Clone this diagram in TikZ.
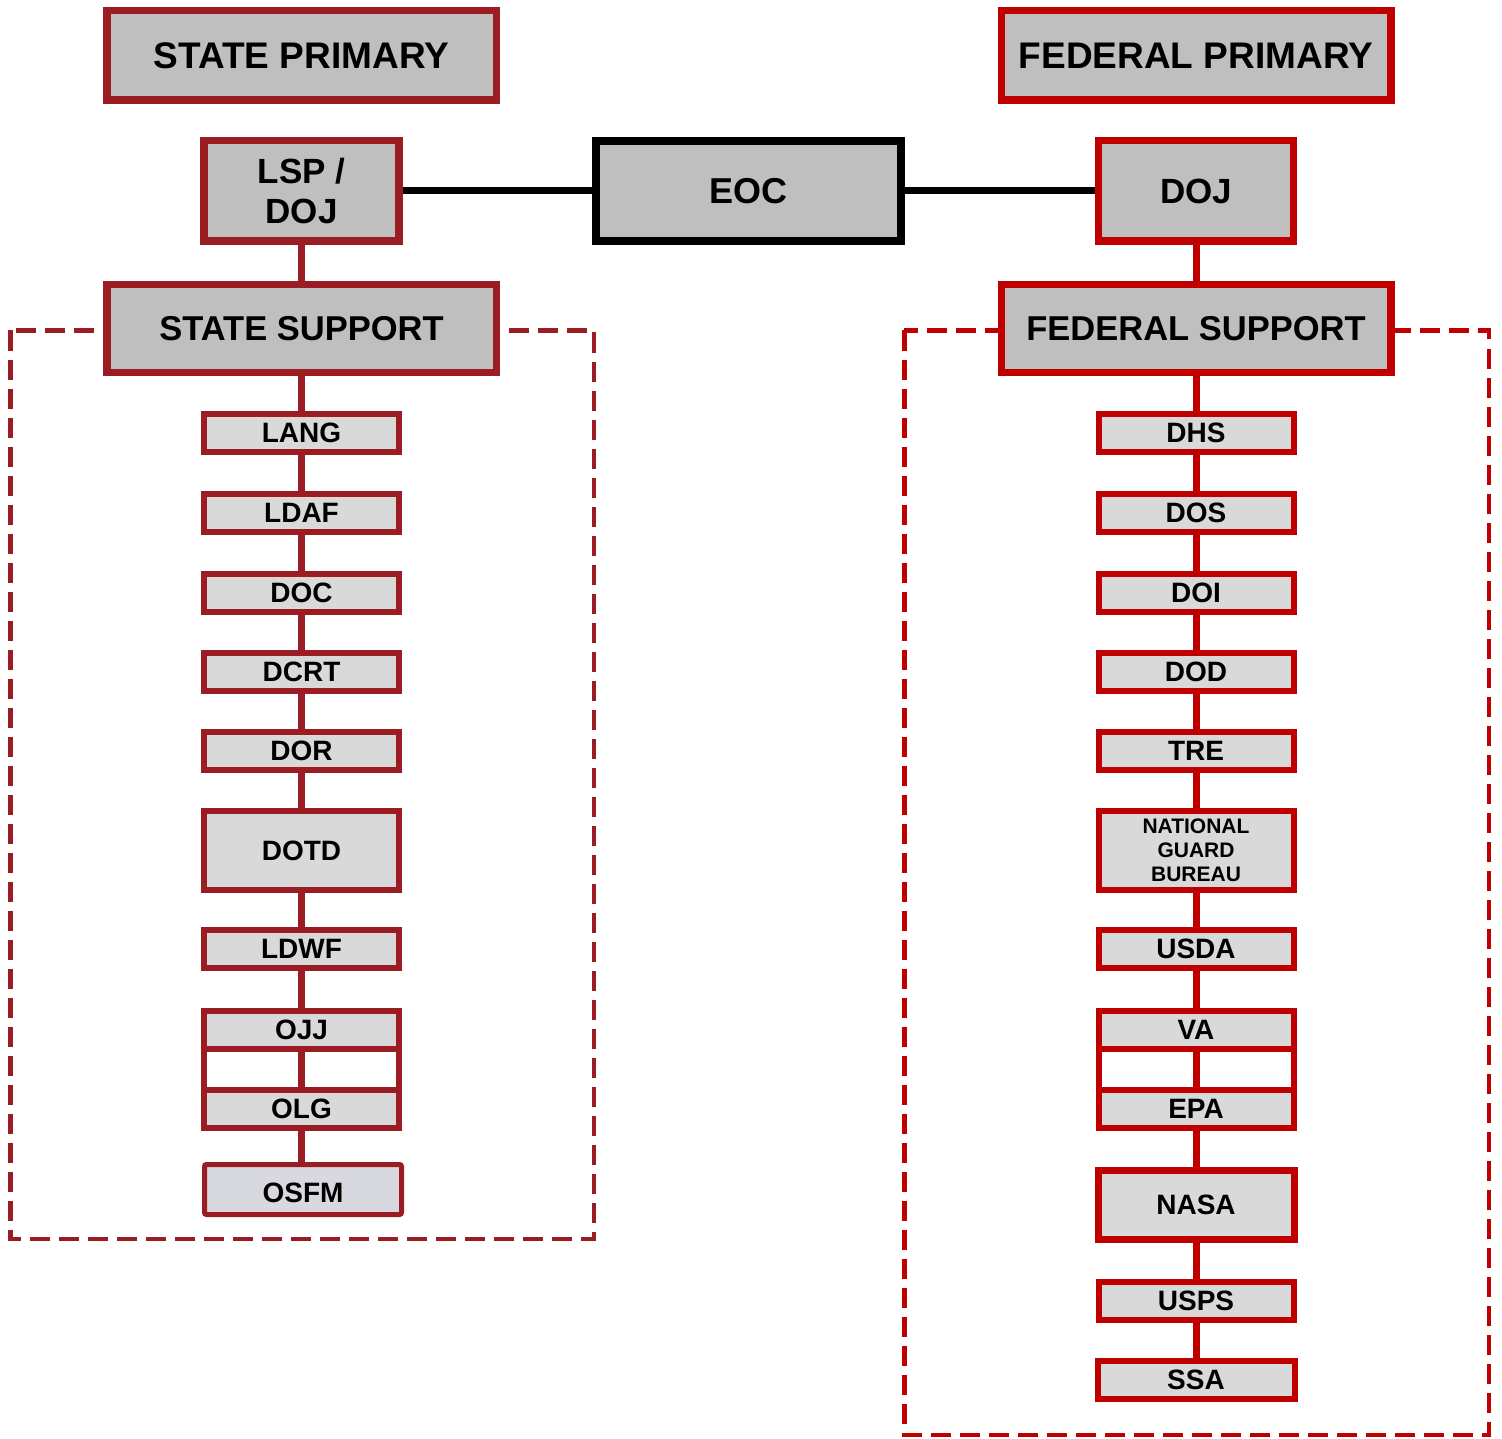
\documentclass[tikz,border=0pt]{standalone}
\usepackage{fontspec}
\setmainfont{Liberation Sans}
\definecolor{sred}{HTML}{9B1C23}
\definecolor{fred}{HTML}{C00000}
\definecolor{bigfill}{HTML}{BFBFBF}
\definecolor{smallfill}{HTML}{D9D9D9}
\definecolor{osfmfill}{HTML}{D7D8E0}
\begin{document}
\begin{tikzpicture}[x=1pt,y=-1pt,
  big/.style={fill=bigfill, line width=7.5pt, inner sep=0pt, align=center,
    font=\fontsize{37}{40}\selectfont\bfseries},
  primbox/.style={big, minimum width=389.5pt, minimum height=89.5pt},
  suppbox/.style={big, minimum width=389.5pt, minimum height=87.5pt,
    font=\fontsize{34.5}{40}\selectfont\bfseries},
  midbox/.style={big, minimum width=195pt, minimum height=100.5pt,
    font=\fontsize{35}{40}\selectfont\bfseries},
  small/.style={fill=smallfill, line width=6pt, inner sep=0pt, align=center,
    minimum width=195pt, minimum height=38pt,
    font=\fontsize{28}{30}\selectfont\bfseries},
  tall/.style={small, minimum height=79pt},
  stc/.style={draw=sred},
  fdc/.style={draw=fred},
  conn/.style={line width=7pt},
  side/.style={line width=6pt},
  dashbox/.style={line width=4.5pt, dash pattern=on 20pt off 9pt}
]
\useasboundingbox (0,0) rectangle (1502,1439);

% dashed group frames
\draw[dashbox, sred] (10.25,330.5) rectangle (593.75,1238.75);
\draw[dashbox, fred] (904.25,330.5) rectangle (1488.75,1434.75);

% state column
\node[primbox, stc] (sp) at (301.5,55.5) {STATE PRIMARY};
\node[midbox, stc] (lsp) at (301.5,191) {LSP /\\DOJ};
\node[suppbox, stc] (ss) at (301.5,328.5) {STATE SUPPORT};
\node[small, stc] (lang) at (301.5,433) {LANG};
\node[small, stc] (ldaf) at (301.5,513) {LDAF};
\node[small, stc] (doc) at (301.5,592.5) {DOC};
\node[small, stc] (dcrt) at (301.5,671.5) {DCRT};
\node[small, stc] (dor) at (301.5,751) {DOR};
\node[tall, stc] (dotd) at (301.5,850.5) {DOTD};
\node[small, stc] (ldwf) at (301.5,949) {LDWF};
\node[small, stc] (ojj) at (301.5,1029.5) {OJJ};
\node[small, stc] (olg) at (301.5,1109) {OLG};
\node[small, stc, fill=osfmfill, line width=5pt, rounded corners=2pt,
  minimum width=197pt, minimum height=50pt, text height=26pt, text depth=0pt] (osfm) at (303,1189.5) {OSFM};

% federal column
\node[primbox, fdc] (fp) at (1196,55.5) {FEDERAL PRIMARY};
\node[midbox, fdc] (doj) at (1196,191) {DOJ};
\node[suppbox, fdc] (fs) at (1196,328.5) {FEDERAL SUPPORT};
\node[small, fdc] (dhs) at (1196,433) {DHS};
\node[small, fdc] (dos) at (1196,513) {DOS};
\node[small, fdc] (doi) at (1196,592.5) {DOI};
\node[small, fdc] (dod) at (1196,671.5) {DOD};
\node[small, fdc] (tre) at (1196,751) {TRE};
\node[tall, fdc, font=\fontsize{21}{24}\selectfont\bfseries] (ngb) at (1196,850.5) {NATIONAL\\GUARD\\BUREAU};
\node[small, fdc] (usda) at (1196,949) {USDA};
\node[small, fdc] (va) at (1196,1029.5) {VA};
\node[small, fdc] (epa) at (1196,1109) {EPA};
\node[small, fdc, line width=7pt, minimum width=196pt, minimum height=69pt] (nasa) at (1196,1205) {NASA};
\node[small, fdc] (usps) at (1196,1301) {USPS};
\node[small, fdc, minimum width=197pt] (ssa) at (1196,1380) {SSA};

% EOC
\node[big, draw=black, line width=8pt, minimum width=305pt, minimum height=100pt,
  font=\fontsize{36}{40}\selectfont\bfseries] (eoc) at (748.5,191) {EOC};

% connectors
\draw[conn, black] (lsp.east) -- (eoc.west);
\draw[conn, black] (eoc.east) -- (doj.west);

\draw[conn, sred] (lsp.south) -- (ss.north);
\draw[conn, sred] (ss.south) -- (lang.north);
\draw[conn, sred] (lang.south) -- (ldaf.north);
\draw[conn, sred] (ldaf.south) -- (doc.north);
\draw[conn, sred] (doc.south) -- (dcrt.north);
\draw[conn, sred] (dcrt.south) -- (dor.north);
\draw[conn, sred] (dor.south) -- (dotd.north);
\draw[conn, sred] (dotd.south) -- (ldwf.north);
\draw[conn, sred] (ldwf.south) -- (ojj.north);
\draw[conn, sred] (ojj.south) -- (olg.north);
\draw[side, sred] ([xshift=3pt]ojj.south west) -- ([xshift=3pt]olg.north west);
\draw[side, sred] ([xshift=-3pt]ojj.south east) -- ([xshift=-3pt]olg.north east);
\draw[conn, sred] (olg.south) -- (olg.south |- osfm.north);

\draw[conn, fred] (doj.south) -- (fs.north);
\draw[conn, fred] (fs.south) -- (dhs.north);
\draw[conn, fred] (dhs.south) -- (dos.north);
\draw[conn, fred] (dos.south) -- (doi.north);
\draw[conn, fred] (doi.south) -- (dod.north);
\draw[conn, fred] (dod.south) -- (tre.north);
\draw[conn, fred] (tre.south) -- (ngb.north);
\draw[conn, fred] (ngb.south) -- (usda.north);
\draw[conn, fred] (usda.south) -- (va.north);
\draw[conn, fred] (va.south) -- (epa.north);
\draw[side, fred] ([xshift=3pt]va.south west) -- ([xshift=3pt]epa.north west);
\draw[side, fred] ([xshift=-3pt]va.south east) -- ([xshift=-3pt]epa.north east);
\draw[conn, fred] (epa.south) -- (nasa.north);
\draw[conn, fred] (nasa.south) -- (usps.north);
\draw[conn, fred] (usps.south) -- (ssa.north);
\end{tikzpicture}
\end{document}
